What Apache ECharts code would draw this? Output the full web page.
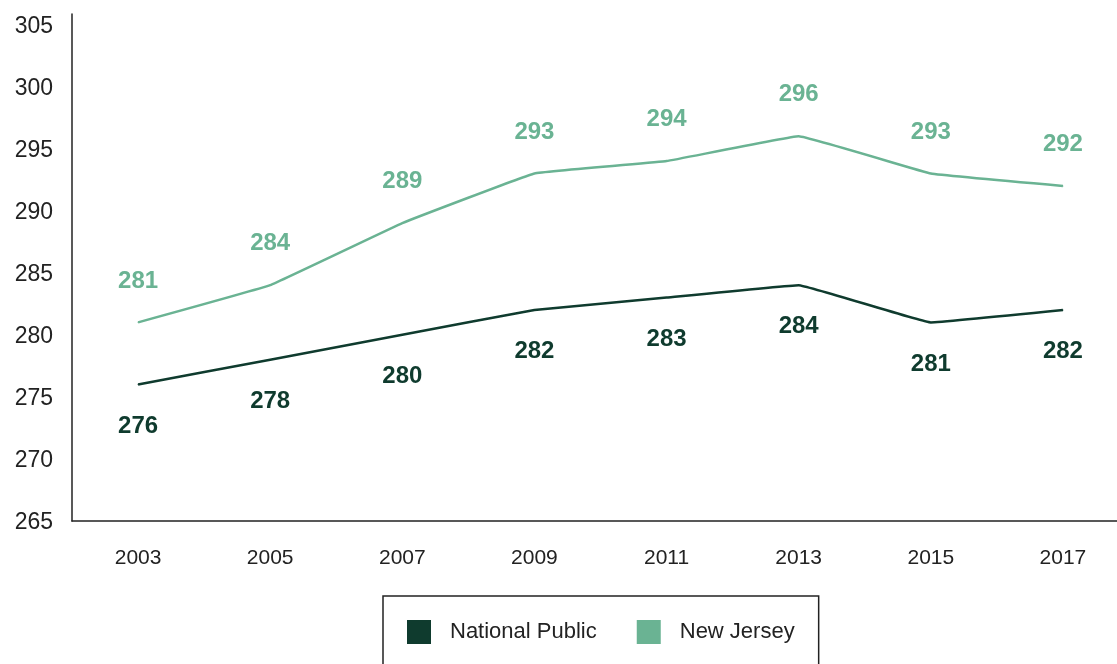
<!DOCTYPE html>
<html>
<head>
<meta charset="utf-8">
<script src="https://cdn.jsdelivr.net/npm/echarts@6/dist/echarts.min.js"></script>
<style>
  html, body { margin: 0; padding: 0; background: #ffffff; }
  #chart { width: 1117px; height: 664px; }
</style>
</head>
<body>
<div id="chart"></div>
<script>
// Assessment years and average scale scores
const years = ['2003', '2005', '2007', '2009', '2011', '2013', '2015', '2017'];
const nationalPublic = [276, 278, 280, 282, 283, 284, 281, 282];
const newJersey = [281, 284, 289, 293, 294, 296, 293, 292];

const DARK = '#0f3b2e';
const LIGHT = '#6ab393';
const FONT = '"Liberation Sans", Arial, sans-serif';

const chart = echarts.init(document.getElementById('chart'), null, { renderer: 'canvas' });

chart.setOption({
  animation: false,
  backgroundColor: '#ffffff',
  grid: {
    left: 72, top: 14, width: 1057, height: 507,
    containLabel: false, outerBoundsMode: 'none'
  },
  xAxis: {
    type: 'category',
    data: years,
    boundaryGap: true,
    axisLine: { show: true, lineStyle: { color: '#222222', width: 1.5 } },
    axisTick: { show: false },
    axisLabel: { color: '#222222', fontFamily: FONT, fontSize: 21, margin: 27 },
    splitLine: { show: false }
  },
  yAxis: {
    type: 'value',
    min: 265,
    max: 305.85,
    interval: 5,
    axisLine: { show: true, lineStyle: { color: '#222222', width: 1.5 } },
    axisTick: { show: false },
    splitLine: { show: false },
    axisLabel: {
      color: '#222222', fontFamily: FONT, fontSize: 23, margin: 19,
      formatter: v => (Math.abs(v % 5) < 1e-6 ? '{t|' + Math.round(v) + '}' : ''),
      rich: {
        t: { color: '#222222', fontFamily: FONT, fontSize: 23, padding: [4, 0, 0, 0] }
      }
    }
  },
  legend: {
    left: 383,
    top: 596,
    padding: [24, 24, 24, 24],
    borderColor: '#222222',
    borderWidth: 1.5,
    itemWidth: 24,
    itemHeight: 24,
    itemGap: 40,
    icon: 'rect',
    textStyle: { color: '#222222', fontFamily: FONT, fontSize: 22, padding: [0, 0, 0, 14] },
    data: ['National Public', 'New Jersey']
  },
  series: [
    {
      name: 'National Public',
      type: 'line',
      data: nationalPublic,
      smooth: 0.06,
      symbol: 'circle',
      symbolSize: 1,
      showSymbol: true,
      lineStyle: { color: DARK, width: 2.5 },
      itemStyle: { color: DARK },
      label: {
        show: true, position: 'bottom', distance: 29,
        color: DARK, fontFamily: FONT, fontSize: 24, fontWeight: 'bold'
      }
    },
    {
      name: 'New Jersey',
      type: 'line',
      data: newJersey,
      smooth: 0.06,
      symbol: 'circle',
      symbolSize: 1,
      showSymbol: true,
      lineStyle: { color: LIGHT, width: 2.5 },
      itemStyle: { color: LIGHT },
      label: {
        show: true, position: 'top', distance: 29,
        color: LIGHT, fontFamily: FONT, fontSize: 24, fontWeight: 'bold'
      }
    }
  ]
});
</script>
</body>
</html>
